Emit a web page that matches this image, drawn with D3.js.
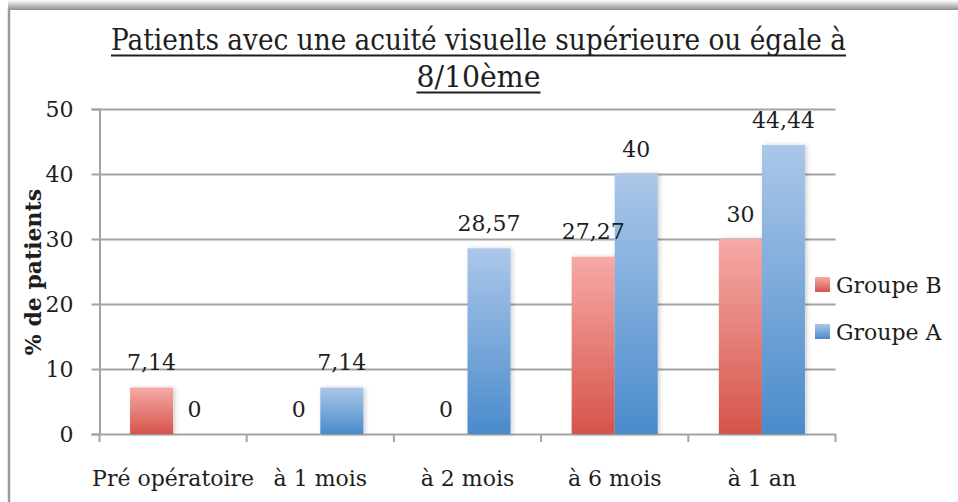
<!DOCTYPE html>
<html lang="fr">
<head>
<meta charset="UTF-8">
<title>Patients avec une acuité visuelle</title>
<script src="https://d3js.org/d3.v7.min.js"></script>
<style>
  body { margin: 0; background: #fff; }
  svg { display: block; }
  text { fill: #1e1e1e; }
</style>
</head>
<body>
<svg id="chart" width="958" height="502"></svg>
<script>
// données
const categories = ["Pré opératoire", "à 1 mois", "à 2 mois", "à 6 mois", "à 1 an"];
const groupeB = [7.14, 0, 0, 27.27, 30];
const groupeA = [0, 7.14, 28.57, 40, 44.44];
const seriesNames = ["Groupe B", "Groupe A"];
const yTicks = [0, 10, 20, 30, 40, 50];
const titleLines = ["Patients avec une acuité visuelle supérieure ou égale à", "8/10ème"];

const svg = d3.select("#chart");
const serif = "'DejaVu Serif', serif";

const defs = svg.append("defs");
function grad(id, top, bottom) {
  const g = defs.append("linearGradient").attr("id", id)
    .attr("x1", 0).attr("y1", 0).attr("x2", 0).attr("y2", 1);
  g.append("stop").attr("offset", "0%").attr("stop-color", top);
  g.append("stop").attr("offset", "100%").attr("stop-color", bottom);
}
grad("gB", "#f6aaa6", "#d5544b");
grad("gA", "#abc7e9", "#4a8bcc");
grad("gTop", "#ffffff", "#8e8e8e");
const sh = defs.append("filter").attr("id", "shadow")
  .attr("x", "-20%").attr("y", "-5%").attr("width", "150%").attr("height", "110%");
sh.append("feDropShadow").attr("dx", 2).attr("dy", 0).attr("stdDeviation", 2)
  .attr("flood-color", "#000").attr("flood-opacity", 0.18);

// cadre
svg.append("rect").attr("x", 8).attr("y", 0).attr("width", 950).attr("height", 10)
  .attr("fill", "url(#gTop)");
svg.append("line").attr("x1", 9).attr("x2", 9).attr("y1", 9).attr("y2", 502)
  .attr("stroke", "#9a9a9a").attr("stroke-width", 2.5);

// échelles
const x0 = d3.scaleBand().domain(categories).range([99.5, 835.5]).padding(0);
const x1 = d3.scaleBand().domain(seriesNames).range([0, x0.bandwidth()])
  .paddingInner(0).paddingOuter(0.71);
const y = d3.scaleLinear().domain([0, 50]).range([434, 109]);
const color = { "Groupe B": "url(#gB)", "Groupe A": "url(#gA)" };

// grille + axe y
const yAxis = d3.axisLeft(y).tickValues(yTicks).tickSize(8).tickPadding(18)
  .tickFormat(d3.format("d"));
const gy = svg.append("g").attr("transform", "translate(99.5,0)").call(yAxis);
gy.select(".domain").attr("stroke", "#a3a3a3").attr("stroke-width", 2);
gy.selectAll(".tick line").attr("stroke", "#a3a3a3").attr("stroke-width", 2);
gy.selectAll(".tick text").attr("font-family", serif).attr("font-size", 22)
  .attr("fill", "#1e1e1e");
gy.selectAll(".tick").append("line").attr("x1", 0).attr("x2", 736)
  .attr("stroke", "#a3a3a3").attr("stroke-width", 2);

// axe x
const xAxis = d3.axisBottom(x0).tickSize(0).tickPadding(36);
const gx = svg.append("g").attr("transform", "translate(0,434)").call(xAxis);
gx.select(".domain").remove();
gx.selectAll(".tick text").attr("font-family", serif).attr("font-size", 22)
  .attr("fill", "#1e1e1e");
gx.selectAll(".edge").data(categories.concat(["end"])).enter().append("line")
  .attr("x1", (d, i) => i < categories.length ? x0(d) : x0.range()[1])
  .attr("x2", (d, i) => i < categories.length ? x0(d) : x0.range()[1])
  .attr("y1", 0).attr("y2", 8).attr("stroke", "#a3a3a3").attr("stroke-width", 2);

// barres
const rows = categories.map((c, i) => ({ cat: c, vals: [
  { key: "Groupe B", v: groupeB[i] }, { key: "Groupe A", v: groupeA[i] }] }));
const grp = svg.selectAll(".grp").data(rows).enter().append("g")
  .attr("transform", d => `translate(${x0(d.cat)},0)`);
grp.selectAll("rect").data(d => d.vals.filter(v => v.v > 0)).enter().append("rect")
  .attr("x", d => x1(d.key)).attr("width", x1.bandwidth())
  .attr("y", d => y(d.v)).attr("height", d => y(0) - y(d.v))
  .attr("fill", d => color[d.key]).attr("filter", "url(#shadow)");
grp.selectAll(".lbl").data(d => d.vals).enter().append("text")
  .attr("x", d => x1(d.key) + x1.bandwidth() / 2)
  .attr("y", d => y(d.v) - 25).attr("dy", "0.35em")
  .attr("text-anchor", "middle").attr("font-family", serif).attr("font-size", 22)
  .text(d => String(d.v).replace(".", ","));

// titre (serif condensé, souligné)
const titleW = [735, 124];
const baseY = [50, 87];
const title = svg.append("g").attr("font-family", serif)
  .attr("font-size", 29).attr("text-anchor", "middle");
titleLines.forEach((t, i) => {
  title.append("text").attr("x", 478.5).attr("y", baseY[i]).text(t)
    .attr("textLength", titleW[i]).attr("lengthAdjust", "spacingAndGlyphs");
  title.append("line").attr("x1", 478.5 - titleW[i] / 2).attr("x2", 478.5 + titleW[i] / 2)
    .attr("y1", baseY[i] + 5.5).attr("y2", baseY[i] + 5.5)
    .attr("stroke", "#1e1e1e").attr("stroke-width", 2.2);
});

// titre axe y
svg.append("text").attr("transform", "translate(33,272) rotate(-90)")
  .attr("text-anchor", "middle").attr("dy", "0.35em").attr("font-family", serif)
  .attr("font-weight", "bold").attr("font-size", 22).text("% de patients");

// légende
const leg = svg.selectAll(".leg").data(seriesNames).enter().append("g")
  .attr("transform", (d, i) => `translate(815,${277 + i * 47})`);
leg.append("rect").attr("width", 15).attr("height", 15).attr("fill", d => color[d]);
leg.append("text").attr("x", 21).attr("y", 8).attr("dy", "0.35em")
  .attr("font-family", serif).attr("font-size", 22).text(d => d);
</script>
</body>
</html>
